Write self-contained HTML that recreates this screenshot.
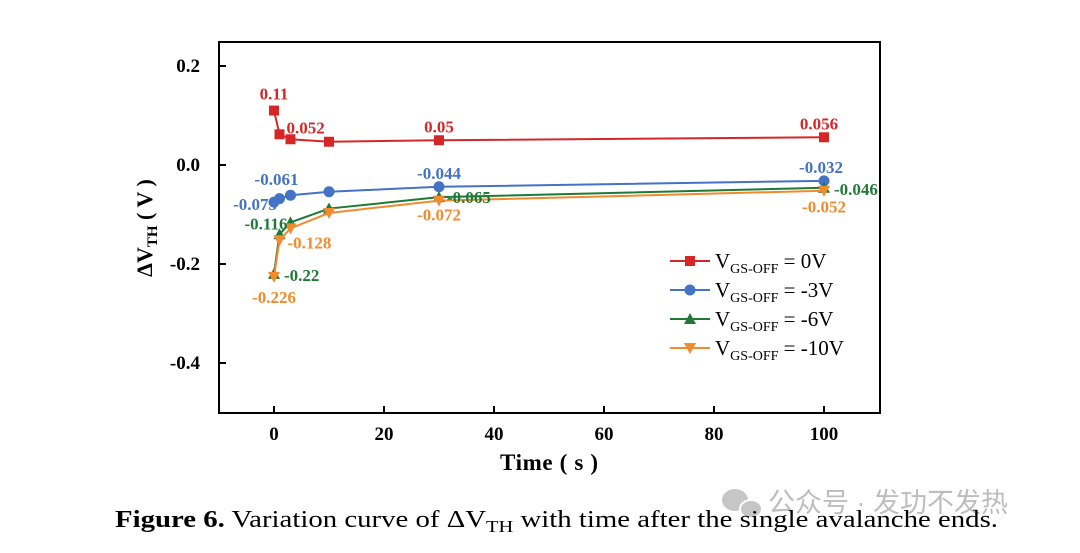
<!DOCTYPE html>
<html><head><meta charset="utf-8"><style>
body{margin:0;background:#fff;width:1080px;height:548px;overflow:hidden}
svg text{font-family:"Liberation Serif",serif}
</style></head><body>
<svg id="chart" width="1080" height="548" xmlns="http://www.w3.org/2000/svg">
<rect x="219" y="42" width="661" height="371" fill="none" stroke="#000" stroke-width="2"/>
<g id="axes"></g><g id="series"></g>
<text x="500" y="470" font-size="23" font-weight="bold" textLength="98">Time ( s )</text>
<text transform="translate(152,228) rotate(-90)" text-anchor="middle" font-size="22" font-weight="bold">ΔV<tspan font-size="15" dy="5">TH</tspan><tspan dy="-5"> ( V )</tspan></text>
<g id="legend"></g>
<g opacity="0.55">
<ellipse cx="735" cy="500" rx="13" ry="11" fill="#999"/><ellipse cx="751" cy="509" rx="11" ry="9" fill="#999" stroke="#fff" stroke-width="2"/>
<text x="768" y="512" font-size="27" fill="#888" style='font-family:"Liberation Sans","Noto Sans CJK SC",sans-serif'>公众号 · 发功不发热</text>
</g>
<text x="115" y="527" font-size="24" textLength="883" lengthAdjust="spacingAndGlyphs"><tspan font-weight="bold">Figure 6.</tspan> Variation curve of ΔV<tspan font-size="17" dy="5">TH</tspan><tspan dy="-5"> with time after the single avalanche ends.</tspan></text>
</svg>
<script>
const xs=[0,1,3,10,30,100];
const red=[0.11,0.062,0.052,0.047,0.05,0.056];
const blue=[-0.075,-0.068,-0.061,-0.054,-0.044,-0.032];
const green=[-0.22,-0.14,-0.116,-0.088,-0.065,-0.046];
const orange=[-0.226,-0.152,-0.128,-0.097,-0.072,-0.052];
const xTicks=[0,20,40,60,80,100];
const yTicks=[0.2,0.0,-0.2,-0.4];
const yTickLabels=["0.2","0.0","-0.2","-0.4"];
const legendLabels=["= 0V","= -3V","= -6V","= -10V"];
const NS="http://www.w3.org/2000/svg";
const X=v=>274+v*5.5, Y=v=>165-v*495;
function mk(t,a,p){const e=document.createElementNS(NS,t);for(const k in a)e.setAttribute(k,a[k]);p.appendChild(e);return e;}
const ax=document.getElementById('axes');
xTicks.forEach(t=>{const l=mk('line',{x1:X(t),x2:X(t),y1:413,y2:406,stroke:'#000','stroke-width':2},ax);


const tx=mk('text',{x:X(t),y:440,'text-anchor':'middle','font-size':19,'font-weight':'bold'},ax);tx.textContent=t;

});
yTicks.forEach((t,i)=>{const l=mk('line',{x1:219,x2:226,y1:Y(t),y2:Y(t),stroke:'#000','stroke-width':2},ax);


const tx=mk('text',{x:200,y:Y(t)+6,'text-anchor':'end','font-size':19,'font-weight':'bold'},ax);tx.textContent=yTickLabels[i];

});
function marker(kind,x,y,c,p){
 if(kind==0)return mk('rect',{x:x-5,y:y-5,width:10,height:10,fill:c},p);
 if(kind==1)return mk('circle',{cx:x,cy:y,r:5.5,fill:c},p);
 if(kind==2)return mk('polygon',{points:`${x},${y-6} ${x-6},${y+5} ${x+6},${y+5}`,fill:c},p);
 return mk('polygon',{points:`${x},${y+6} ${x-6},${y-5} ${x+6},${y-5}`,fill:c},p);}
const sg=document.getElementById('series');
const S=[[red,'#d62728','red'],[blue,'#4472c4','blue'],[green,'#1f7a35','green'],[orange,'#f28a2e','orange']];
S.forEach(([d,c,n],k)=>{const g=mk('g',{},sg);


const pl=mk('polyline',{points:xs.map((x,i)=>X(x)+','+Y(d[i])).join(' '),fill:'none',stroke:c,'stroke-width':2},g);


xs.forEach((x,i)=>{const m=marker(k,X(x),Y(d[i]),c,g);

});});
const labs=[[0,0,0,-11,'middle'],[0,2,-4,-6,'start'],[0,4,0,-8,'middle'],[0,5,-5,-8,'middle'],
[1,0,3,8,'end'],[1,2,-14,-10,'middle'],[1,4,0,-8,'middle'],[1,5,-3,-8,'middle'],
[2,0,10,7,'start'],[2,2,-3,7,'end'],[2,4,8,6,'start'],[2,5,10,7,'start'],
[3,0,0,26,'middle'],[3,2,-3,20,'start'],[3,4,0,20,'middle'],[3,5,0,22,'middle']];
labs.forEach(([s,i,dx,dy,a])=>{const d=S[s][0];const v=d[i];
const t=mk('text',{x:X(xs[i])+dx,y:Y(v)+dy,'text-anchor':a,'font-size':17,'font-weight':'bold',fill:S[s][1]},sg);
t.textContent=String(v);

});
const lg=document.getElementById('legend');
S.forEach(([d,c,n],k)=>{const y=261+k*29;
mk('line',{x1:670,x2:710,y1:y,y2:y,stroke:c,'stroke-width':2},lg);
marker(k,690,y,c,lg);
const t=mk('text',{x:715,y:y+7,'font-size':21},lg);
t.innerHTML='V<tspan font-size="14" dy="5">GS-OFF</tspan><tspan dy="-5"> '+legendLabels[k]+'</tspan>';

});
</script>
</body></html>
